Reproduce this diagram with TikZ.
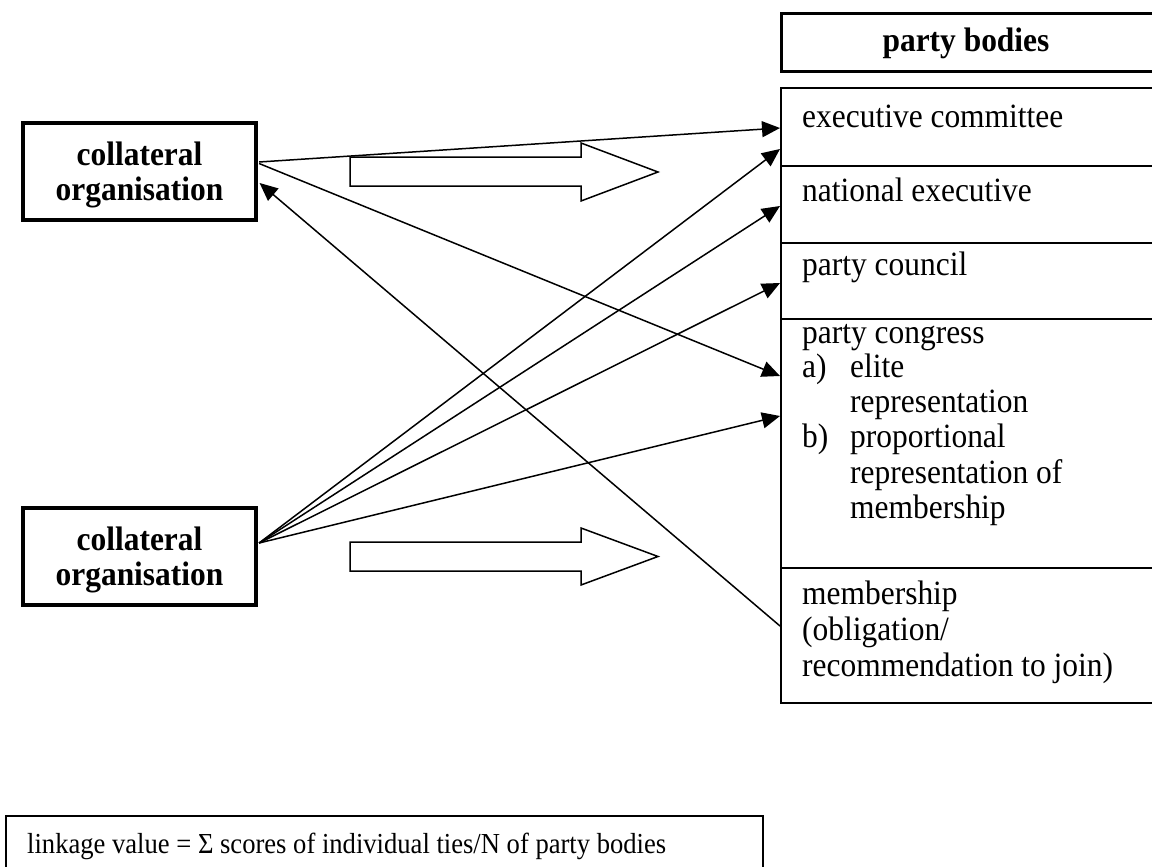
\documentclass[tikz,border=0pt]{standalone}
\usepackage{fontspec}
\setmainfont{Liberation Serif}[FakeStretch=0.925]
\newfontfamily\formfont{Liberation Serif}[FakeStretch=0.917]
\usetikzlibrary{arrows.meta,calc}
\begin{document}
\begin{tikzpicture}[x=1pt,y=-1pt,
  txt/.style={font=\fontsize{34}{35}\selectfont, inner sep=0pt, anchor=base west},
  btxt/.style={font=\fontsize{34}{35}\selectfont\bfseries, inner sep=0pt, align=center},
  orgbox/.style={draw, line width=3.2pt, inner sep=0pt, minimum width=233pt, minimum height=97pt},
  rowbox/.style={draw, line width=2pt, inner sep=0pt, anchor=north west, minimum width=420pt},
  link/.style={line width=1.5pt, -{Triangle[length=18pt,width=16pt]}},
  hollow/.style={draw, line width=1.5pt, line join=miter}
]
\useasboundingbox (0,0) rectangle (1152,867);
\clip (0,0) rectangle (1152,867);

% header
\node[draw, line width=3pt, inner sep=0pt, anchor=north west, minimum width=420pt, minimum height=58pt] (head) at (780,12) {};
\node[btxt, anchor=base] (headtxt) at (966,52) {party bodies};

% rows of party bodies
\node[rowbox, minimum height=78pt] (r1) at (780,87) {};
\node[rowbox, minimum height=77pt] (r2) at (780,165) {};
\node[rowbox, minimum height=76pt] (r3) at (780,242) {};
\node[rowbox, minimum height=249pt] (r4) at (780,318) {};
\node[rowbox, minimum height=135pt] (r5) at (780,567) {};

\node[txt] (t1) at (802,127) {executive committee};
\node[txt] (t2) at (802,201) {national executive};
\node[txt] (t3) at (802,275) {party council};
\node[txt] (c0) at (802,343) {party congress};
\node[txt] (c1) at (802,377) {a)};
\node[txt] (c1t) at (850,377) {elite};
\node[txt] (c2t) at (850,412) {representation};
\node[txt] (c3) at (802,447) {b)};
\node[txt] (c3t) at (850,447) {proportional};
\node[txt] (c4t) at (850,483) {representation of};
\node[txt] (c5t) at (850,518) {membership};
\node[txt] (m1) at (802,604) {membership};
\node[txt] (m2) at (802,640) {(obligation/};
\node[txt] (m3) at (802,676) {recommendation to join)};

% collateral organisations
\node[orgbox] (orgA) at (139.5,171.5) {};
\node[btxt, anchor=base] (orgAt1) at (139.5,165) {collateral};
\node[btxt, anchor=base] (orgAt2) at (139.5,200) {organisation};
\node[orgbox] (orgB) at (139.5,556.5) {};
\node[btxt, anchor=base] (orgBt1) at (139.5,550) {collateral};
\node[btxt, anchor=base] (orgBt2) at (139.5,585) {organisation};

% hollow arrows
\draw[hollow] (350,157) -- (581,157) -- (581,143) -- (658,172) -- (581,201) -- (581,186) -- (350,186) -- cycle;
\draw[hollow] (350,542) -- (581,542) -- (581,528) -- (658,556.5) -- (581,585) -- (581,571) -- (350,571) -- cycle;

% connectors from upper organisation
\draw[link] ($(orgA.east)+(1.5,-9.5)$) -- ($(r1.west)+(0,1)$);
\draw[link] ($(orgA.east)+(1.5,-8)$) -- ($(r4.west)+(0,-67.5)$);
\draw[link] ($(r5.west)+(0,-9.5)$) -- ($(orgA.east)+(2,11.5)$);

% connectors from lower organisation
\coordinate (bsrc) at ($(orgB.east)+(1.5,-13.5)$);
\draw[link] (bsrc) -- ($(r1.west)+(0,22)$);
\draw[link] (bsrc) -- ($(r2.west)+(0,1.5)$);
\draw[link] (bsrc) -- ($(r3.west)+(0,2)$);
\draw[link] (bsrc) -- ($(r4.west)+(0,-27.5)$);

% formula box
\node[draw, line width=1.8pt, inner sep=0pt, anchor=north west, minimum width=757pt, minimum height=90pt] (formula) at (5,815) {};
\node[inner sep=0pt, anchor=base west, font=\formfont\fontsize{29}{32}\selectfont] (formtxt) at (27,853) {linkage value = Σ scores of individual ties/N of party bodies};
\end{tikzpicture}
\end{document}
